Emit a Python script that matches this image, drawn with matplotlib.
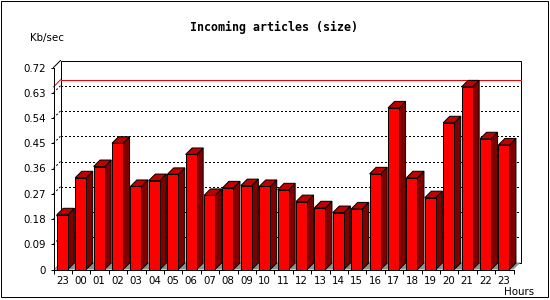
import matplotlib
matplotlib.use('Agg')
import matplotlib.pyplot as plt
from matplotlib.patches import Polygon, Rectangle
from matplotlib.ticker import FixedLocator, FixedFormatter, NullFormatter

# ---- data ----
hours = ['23', '00', '01', '02', '03', '04', '05', '06', '07', '08', '09', '10',
         '11', '12', '13', '14', '15', '16', '17', '18', '19', '20', '21', '22', '23']
values = [0.195, 0.327, 0.367, 0.450, 0.296, 0.317, 0.339, 0.410, 0.264, 0.291,
          0.299, 0.296, 0.284, 0.242, 0.220, 0.203, 0.216, 0.341, 0.576, 0.327,
          0.256, 0.523, 0.651, 0.466, 0.444]
y_ticks = [0, 0.09, 0.18, 0.27, 0.36, 0.45, 0.54, 0.63, 0.72]
y_tick_labels = ['0', '0.09', '0.18', '0.27', '0.36', '0.45', '0.54', '0.63', '0.72']
title = 'Incoming articles (size)'
y_unit = 'Kb/sec'
x_unit = 'Hours'

# ---- styles ----
FRONT = '#FF0000'
TOP = '#C00000'
SIDE = '#800000'
FLOOR = '#909090'
PX = 0.72  # one pixel in points at 100 dpi

W, H = 550, 300
fig = plt.figure(figsize=(W / 100, H / 100), dpi=100)
ax_w, ax_h = 460, 202
ax = fig.add_axes([53.5 / W, (H - 269.5) / H, ax_w / W, ax_h / H])
n = len(values)
ymax = y_ticks[-1]
ax.set_xlim(0, n)
ax.set_ylim(0, ymax)

depth = 6.5
dx = depth * n / ax_w
dy = depth * ymax / ax_h
wdx = 7.0 * n / ax_w
wdy = 7.0 * ymax / ax_h

# back plane
ax.add_patch(Rectangle((wdx, wdy), n, ymax, facecolor='white', edgecolor='black',
                       lw=PX, zorder=1, clip_on=False))
# top-left diagonal of left wall
ax.plot([0, wdx], [ymax, ymax + wdy], color='black', lw=PX, zorder=1.5, clip_on=False)

# gridlines on back plane
for v in y_ticks[1:-1]:
    ax.plot([0, wdx], [v, v + wdy], color='black', lw=PX, ls=(0, (2, 2)),
            zorder=1.5, clip_on=False)
    ax.plot([wdx, n + wdx], [v + wdy, v + wdy], color='black', lw=PX,
            ls=(0, (2, 2.5)), zorder=1.5, clip_on=False, antialiased=False)

# max line
m = max(values)
ax.plot([0, wdx], [m, m + wdy], color='#FF0000', lw=PX, zorder=1.7, clip_on=False)
ax.plot([wdx, n + wdx], [m + wdy, m + wdy], color='#FF0000', lw=PX,
        zorder=1.7, clip_on=False, antialiased=False)

# floor
ax.add_patch(Polygon([(0, 0), (n, 0), (n + wdx, wdy), (wdx, wdy)], closed=True,
                     facecolor=FLOOR, edgecolor='none', zorder=1.8, clip_on=False))

# bars
bw = 0.6
off = 0.18
for i, v in enumerate(values):
    x0 = i + off
    x1 = x0 + bw
    z = 3 + i * 0.01
    ax.add_patch(Polygon([(x1, 0), (x1, v), (x1 + dx, v + dy), (x1 + dx, dy)],
                         closed=True, facecolor=SIDE, edgecolor='black', lw=PX,
                         zorder=z, clip_on=False))
    ax.add_patch(Polygon([(x0, v), (x1, v), (x1 + dx, v + dy), (x0 + dx, v + dy)],
                         closed=True, facecolor=TOP, edgecolor='black', lw=PX,
                         zorder=z, clip_on=False))
    ax.bar(x0, v, width=bw, align='edge', color=FRONT, edgecolor='black', lw=PX,
           zorder=z + 0.001, clip_on=False)

# axes
for s in ['top', 'right']:
    ax.spines[s].set_visible(False)
for s in ['left', 'bottom']:
    ax.spines[s].set_linewidth(PX)
    ax.spines[s].set_zorder(5)
ax.patch.set_visible(False)

font = dict(family='DejaVu Sans', size=7.4)
ax.yaxis.set_major_locator(FixedLocator(y_ticks))
ax.yaxis.set_major_formatter(FixedFormatter(y_tick_labels))
ax.tick_params(axis='y', direction='out', length=3 * PX, width=PX, pad=3.2,
               labelsize=7.4)
ax.xaxis.set_major_locator(FixedLocator(list(range(n + 1))))
ax.xaxis.set_major_formatter(NullFormatter())
ax.xaxis.set_minor_locator(FixedLocator([i + 0.48 for i in range(n)]))
ax.xaxis.set_minor_formatter(FixedFormatter(hours))
ax.tick_params(axis='x', which='major', direction='out', length=4 * PX, width=PX)
ax.tick_params(axis='x', which='minor', length=0, pad=5, labelsize=7.4)
for lab in ax.get_yticklabels() + ax.get_xticklabels(minor=True):
    lab.set_family('DejaVu Sans')

# texts
fig.text(274 / W, 1 - 30.7 / H, title, ha='center', va='baseline',
         family='DejaVu Sans Mono', weight='bold', size=8.4)
fig.text(30 / W, 1 - 40.5 / H, y_unit, ha='left', va='baseline', **font)
fig.text(534 / W, 1 - 295 / H, x_unit, ha='right', va='baseline', **font)

# frame
fig.add_artist(Rectangle((0.5 / W, 3.5 / H), 547.5 / W, 296 / H,
                         transform=fig.transFigure, fill=False,
                         edgecolor='black', lw=PX))

fig.savefig('out.png', dpi=100)
